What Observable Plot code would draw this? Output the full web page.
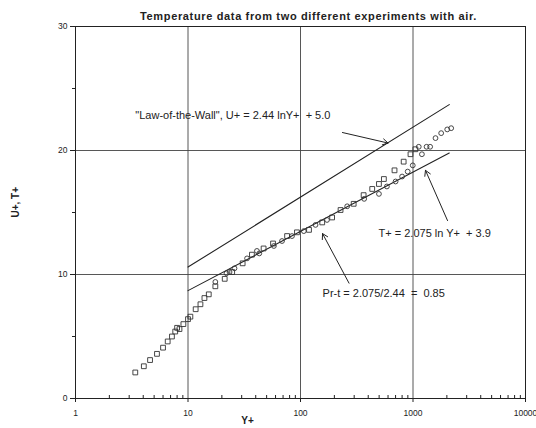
<!DOCTYPE html>
<html>
<head>
<meta charset="utf-8">
<script src="https://cdn.jsdelivr.net/npm/d3@7"></script>
<script src="https://cdn.jsdelivr.net/npm/@observablehq/plot@0.6"></script>
<style>
  html, body { margin: 0; padding: 0; background: #fff; }
  #chart { width: 536px; height: 428px; }
</style>
</head>
<body>
<div id="chart"></div>
<script>
// ---- Data ----
const titleText = "Temperature data from two different experiments with air.";
const xLabel = "Y+";
const yLabel = "U+, T+";

const xTicks = [1, 10, 100, 1000, 10000];
const xTickLabels = ["1", "10", "100", "1000", "10000"];
const xMinorTicks = [2,3,4,5,6,7,8,9,20,30,40,50,60,70,80,90,200,300,400,500,600,700,800,900,2000,3000,4000,5000,6000,7000,8000,9000];
const yTicks = [0, 10, 20, 30];
const yMinorTicks = [5, 15, 25];
const xGrid = [10, 100, 1000];
const yGrid = [10, 20];

// Experiment 1 (squares)
const sqX = [3.4, 4.05, 4.6, 5.3, 6.0, 6.6, 7.2, 7.7, 8.0, 8.4, 9.1, 10.0, 10.5, 11.7, 12.9, 14.0, 15.3, 17.5, 21.2, 24.7, 30.6, 37, 47, 57, 76, 93, 119, 156, 191, 227, 297, 364, 434, 498, 551, 685, 826, 950, 1050];
const sqY = [2.1, 2.6, 3.1, 3.6, 4.1, 4.6, 5.0, 5.4, 5.7, 5.6, 6.0, 6.4, 6.6, 7.2, 7.6, 8.1, 8.4, 9.05, 9.65, 10.2, 10.9, 11.6, 12.1, 12.5, 13.1, 13.4, 13.6, 14.2, 14.6, 15.2, 15.7, 16.4, 16.9, 17.3, 17.7, 18.4, 19.1, 19.7, 20.1];

// Experiment 2 (circles)
const ciX = [17.5, 22, 23.4, 25.9, 33.5, 41, 43, 58, 68.5, 84, 107, 136, 172, 260, 368, 498, 586, 700, 800, 897, 995, 1125, 1200, 1320, 1420, 1585, 1780, 2015, 2185];
const ciY = [9.4, 10.1, 10.2, 10.5, 11.3, 11.9, 11.7, 12.3, 12.7, 13.1, 13.5, 14.0, 14.4, 15.5, 16.1, 16.5, 17.1, 17.5, 17.9, 18.3, 18.8, 20.3, 19.7, 20.3, 20.3, 21.0, 21.4, 21.7, 21.8];

// Reference lines (end points)
const lawX = [10, 2100];
const lawY = [10.6, 23.7];
const tempX = [10, 2100];
const tempY = [8.7, 19.8];

// Annotations
const noteText = ["\"Law-of-the-Wall\", U+ = 2.44 lnY+\u00a0 + 5.0", "T+ = 2.075 ln Y+\u00a0 + 3.9", "Pr-t = 2.075/2.44\u00a0 =\u00a0 0.85"];
const noteX = [3.4, 494, 157];
const noteY = [22.8, 13.3, 8.45];
const arrowX1 = [236, 2027, 270];
const arrowY1 = [21.45, 14.35, 9.3];
const arrowX2 = [600, 1291, 157];
const arrowY2 = [20.6, 18.4, 13.3];

// ---- Build tables ----
const squares = sqX.map((x, i) => ({x, y: sqY[i]}));
const circles = ciX.map((x, i) => ({x, y: ciY[i]}));
const law = lawX.map((x, i) => ({x, y: lawY[i]}));
const temp = tempX.map((x, i) => ({x, y: tempY[i]}));
const notes = noteText.map((t, i) => ({t, x: noteX[i], y: noteY[i]}));
const arrows = arrowX1.map((x1, i) => ({x1, y1: arrowY1[i], x2: arrowX2[i], y2: arrowY2[i]}));

const ink = "#222";
const font = "'Liberation Sans', Arial, sans-serif";

const chart = Plot.plot({
  width: 536,
  height: 428,
  marginTop: 26,
  marginLeft: 75,
  marginRight: 11,
  marginBottom: 30,
  style: {fontFamily: font, background: "#fff", color: ink},
  x: {type: "log", domain: [1, 10000]},
  y: {domain: [0, 30]},
  marks: [
    Plot.gridX(xGrid, {stroke: "#444", strokeOpacity: 1, strokeWidth: 0.9}),
    Plot.gridY(yGrid, {stroke: "#444", strokeOpacity: 1, strokeWidth: 0.9}),
    Plot.frame({stroke: ink, strokeWidth: 1}),
    Plot.axisX(xTicks, {anchor: "bottom", tickSize: 4, tickPadding: 7, fontSize: 8.5, tickFormat: (d) => xTickLabels[xTicks.indexOf(d)], label: null, stroke: ink}),
    Plot.axisX(xMinorTicks, {anchor: "bottom", tickSize: -3, tickFormat: () => "", label: null, stroke: ink}),
    Plot.axisY(yTicks, {anchor: "left", tickSize: 5, tickPadding: 3, fontSize: 8.5, label: null, stroke: ink}),
    Plot.axisY(yMinorTicks, {anchor: "left", tickSize: 3, tickFormat: () => "", label: null, stroke: ink}),
    Plot.line(law, {x: "x", y: "y", stroke: ink, strokeWidth: 1.1}),
    Plot.line(temp, {x: "x", y: "y", stroke: ink, strokeWidth: 1.1}),
    Plot.dot(squares, {x: "x", y: "y", symbol: "square", r: 2.7, stroke: "#333", fill: "none", strokeWidth: 0.9}),
    Plot.dot(circles, {x: "x", y: "y", symbol: "circle", r: 2.4, stroke: "#333", fill: "none", strokeWidth: 0.9}),
    Plot.arrow(arrows, {x1: "x1", y1: "y1", x2: "x2", y2: "y2", stroke: ink, strokeWidth: 1, headLength: 9}),
    Plot.text(notes, {x: "x", y: "y", text: "t", textAnchor: "start", fontSize: 11, fill: ink}),
    Plot.text([titleText], {frameAnchor: "top", dx: 8, dy: -14, fontSize: 11, fontWeight: "bold", fill: ink}),
    Plot.text([xLabel], {frameAnchor: "bottom", dx: -53, dy: 25, fontSize: 10, fontWeight: "bold", fill: ink}),
    Plot.text([yLabel], {frameAnchor: "left", dx: -60, dy: 5, rotate: -90, fontSize: 10, fontWeight: "bold", fill: ink})
  ]
});
d3.select(chart).selectAll("text").filter(function() { return this.textContent === titleText; })
  .attr("letter-spacing", "0.65px");
document.getElementById("chart").appendChild(chart);
</script>
</body>
</html>
